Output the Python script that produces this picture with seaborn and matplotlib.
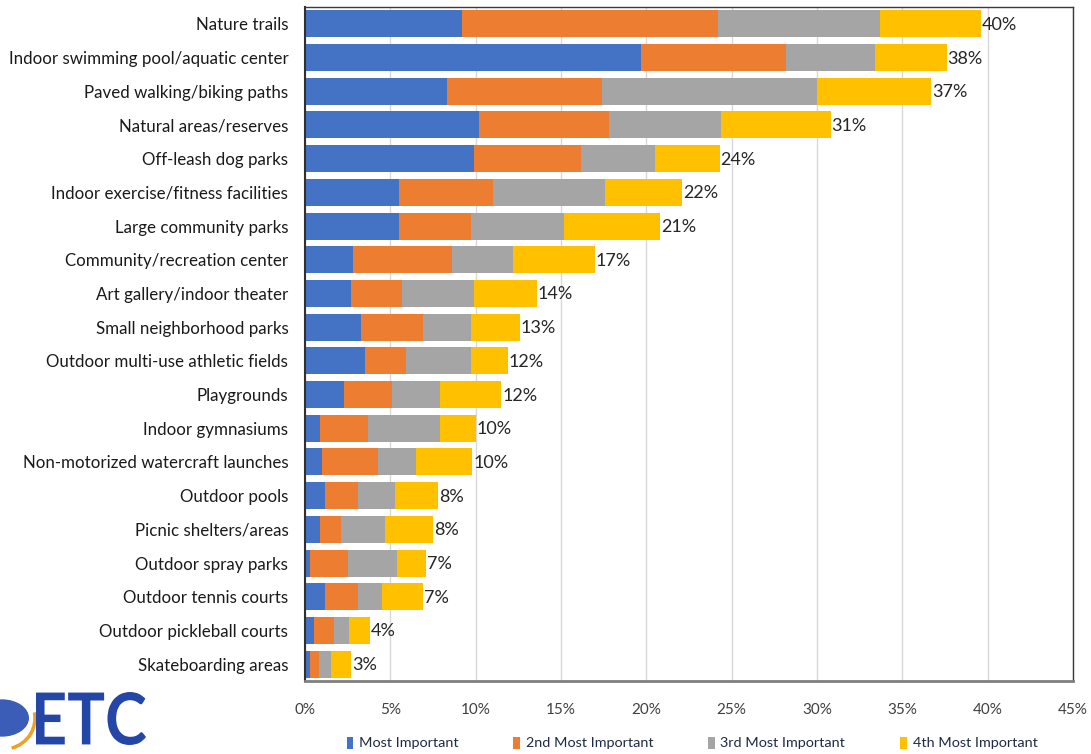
import matplotlib
matplotlib.use("Agg")
import matplotlib.pyplot as plt
from matplotlib.patches import Patch, Circle, Arc, PathPatch
from matplotlib.textpath import TextPath
from matplotlib.font_manager import FontProperties
from matplotlib.transforms import Affine2D
import seaborn as sns
import pandas as pd

# Survey: most important facilities (share of respondents, %)
facilities = [
    "Nature trails",
    "Indoor swimming pool/aquatic center",
    "Paved walking/biking paths",
    "Natural areas/reserves",
    "Off-leash dog parks",
    "Indoor exercise/fitness facilities",
    "Large community parks",
    "Community/recreation center",
    "Art gallery/indoor theater",
    "Small neighborhood parks",
    "Outdoor multi-use athletic fields",
    "Playgrounds",
    "Indoor gymnasiums",
    "Non-motorized watercraft launches",
    "Outdoor pools",
    "Picnic shelters/areas",
    "Outdoor spray parks",
    "Outdoor tennis courts",
    "Outdoor pickleball courts",
    "Skateboarding areas",
]
most_important = [9.2, 19.7, 8.3, 10.2, 9.9, 5.5, 5.5, 2.8, 2.7, 3.3,
                  3.5, 2.3, 0.9, 1.0, 1.2, 0.9, 0.3, 1.2, 0.5, 0.3]
second_most = [15.0, 8.5, 9.1, 7.6, 6.3, 5.5, 4.2, 5.8, 3.0, 3.6,
               2.4, 2.8, 2.8, 3.3, 1.9, 1.2, 2.2, 1.9, 1.2, 0.5]
third_most = [9.5, 5.2, 12.6, 6.6, 4.3, 6.6, 5.5, 3.6, 4.2, 2.8,
              3.8, 2.8, 4.2, 2.2, 2.2, 2.6, 2.9, 1.4, 0.9, 0.7]
fourth_most = [5.9, 4.2, 6.7, 6.4, 3.8, 4.5, 5.6, 4.8, 3.7, 2.9,
               2.2, 3.6, 2.1, 3.3, 2.5, 2.8, 1.7, 2.4, 1.2, 1.2]
series_names = ["Most Important", "2nd Most Important",
                "3rd Most Important", "4th Most Important"]
series_colors = ["#4472C4", "#ED7D31", "#A5A5A5", "#FFC000"]
x_ticks = [0, 5, 10, 15, 20, 25, 30, 35, 40, 45]

sns.set_theme(style="white")
plt.rcParams["font.family"] = ["Lato", "DejaVu Sans"]

df = pd.DataFrame({
    "facility": facilities,
    series_names[0]: most_important,
    series_names[1]: second_most,
    series_names[2]: third_most,
    series_names[3]: fourth_most,
})
cum = df[series_names].cumsum(axis=1)

W, H = 1091, 754
fig = plt.figure(figsize=(W / 100, H / 100), dpi=100)
ax = fig.add_axes([305 / W, 1 - 681 / H, 768 / W, 674 / H])

# Stacked bars: draw cumulative totals from the outermost segment inwards
for name, color in reversed(list(zip(series_names, series_colors))):
    sns.barplot(data=pd.DataFrame({"facility": facilities, "v": cum[name]}),
                x="v", y="facility", orient="h", color=color, saturation=1,
                width=0.8, linewidth=0, ax=ax, zorder=2)

totals = cum[series_names[-1]].values
for i, t in enumerate(totals):
    ax.text(t + 0.05, i + 0.03, f"{round(t):.0f}%", va="center", ha="left",
            fontsize=13, color="#262626", zorder=3)

ax.set_xlim(0, 45)
ax.set_ylim(19.5, -0.5)
ax.set_xticks(x_ticks)
ax.set_xticklabels([f"{v}%" for v in x_ticks])
ax.set_xlabel("")
ax.set_ylabel("")
ax.xaxis.grid(True, color="#d9d9d9", linewidth=1, zorder=0)
ax.yaxis.grid(False)
ax.set_axisbelow(True)
ax.tick_params(axis="x", length=0, pad=16, labelsize=11, labelcolor="#404040")
ax.tick_params(axis="y", length=0, pad=12, labelsize=12.2, labelcolor="#1a1a1a")

for side in ["top", "right"]:
    ax.spines[side].set_visible(True)
    ax.spines[side].set_color("#3a3a3a")
    ax.spines[side].set_linewidth(1.0)
ax.spines["left"].set_color("#303030")
ax.spines["left"].set_linewidth(1.5)
ax.spines["bottom"].set_color("#7f7f7f")
ax.spines["bottom"].set_linewidth(2.0)

handles = [Patch(facecolor=c, edgecolor="none", label=n)
           for n, c in zip(series_names, series_colors)]
fig.legend(handles=handles, loc="center", ncol=4, frameon=False,
           bbox_to_anchor=(692 / W, 1 - 743 / H),
           handlelength=0.45, handleheight=0.9, handletextpad=0.4,
           columnspacing=3.8, fontsize=10.4, labelcolor="#1f2a44")

# Organisation logo, lower left
globe = Circle((2 / W, 1 - 718 / H), 27 / W, transform=fig.transFigure,
               facecolor="#3b5db8", edgecolor="none", clip_on=False)
fig.patches.append(globe)
swoosh = Arc((4 / W, 1 - 718 / H), 62 / W, 62 / H, theta1=-80, theta2=15,
             transform=fig.transFigure, color="#F0A020", linewidth=2.5)
fig.patches.append(swoosh)

# Logo lettering: tall, narrow glyphs scaled to a fixed pixel box
logo_path = TextPath((0, 0), "ETC", size=100,
                     prop=FontProperties(family="Lato", weight="bold"))
ext = logo_path.get_extents()
box_x0, box_x1 = 36, 146          # pixel columns
box_top, box_bottom = 692, 745    # pixel rows from the top
sx = (box_x1 - box_x0) / ext.width
sy = (box_bottom - box_top) / ext.height
logo_tf = Affine2D().translate(-ext.x0, -ext.y0).scale(sx, sy).translate(
    box_x0, H - box_bottom)
fig.patches.append(PathPatch(logo_path, transform=logo_tf,
                             facecolor="#2446a6", edgecolor="none"))

fig.savefig("out.png", dpi=100)
